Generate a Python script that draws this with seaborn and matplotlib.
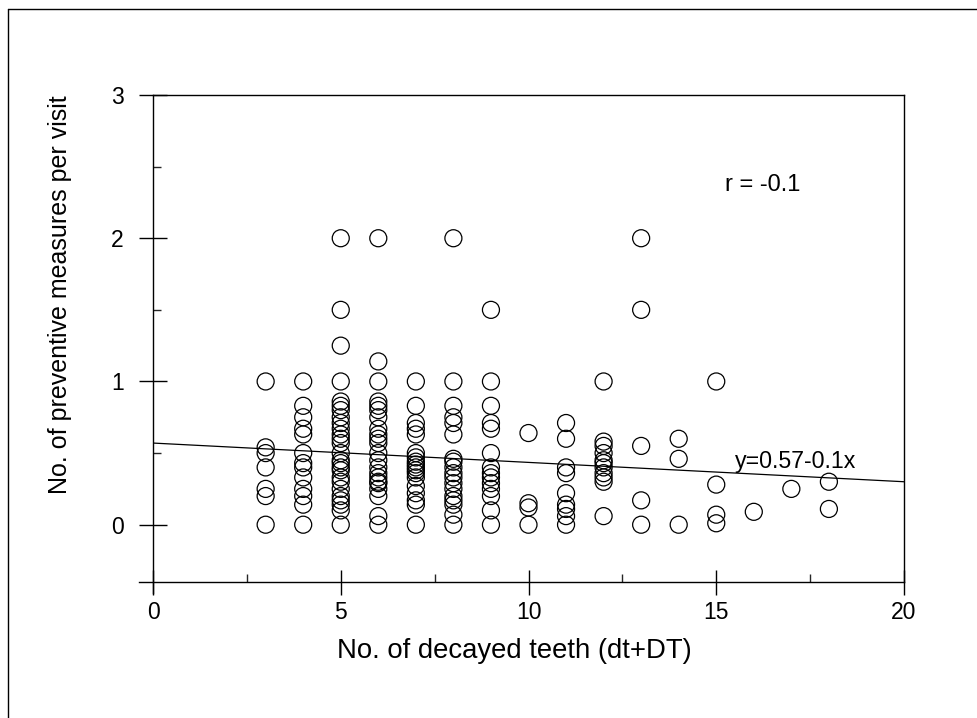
import numpy as np
import pandas as pd
import matplotlib
matplotlib.use("Agg")
import matplotlib.pyplot as plt
from matplotlib.lines import Line2D
from matplotlib.ticker import MultipleLocator
import seaborn as sns

# ---- data ----
x3 = [1.0, 0.54, 0.5, 0.4, 0.25, 0.2, 0.0]
x4 = [1.0, 0.83, 0.75, 0.67, 0.63, 0.5, 0.43, 0.4, 0.33, 0.25, 0.2, 0.14, 0.0]
x5 = [2.0, 1.5, 1.25, 1.0, 0.86, 0.83, 0.8, 0.75, 0.71, 0.67, 0.63, 0.6, 0.57,
      0.5, 0.45, 0.43, 0.4, 0.38, 0.33, 0.3, 0.25, 0.2, 0.17, 0.14, 0.1, 0.0]
x6 = [2.0, 1.14, 1.0, 0.86, 0.83, 0.8, 0.75, 0.67, 0.63, 0.6, 0.57, 0.5, 0.45,
      0.4, 0.36, 0.33, 0.3, 0.29, 0.25, 0.2, 0.06, 0.0]
x7 = [1.0, 0.83, 0.71, 0.67, 0.63, 0.5, 0.47, 0.44, 0.42, 0.4, 0.38, 0.36,
      0.33, 0.27, 0.22, 0.17, 0.14, 0.0]
x8 = [2.0, 1.0, 0.83, 0.75, 0.71, 0.63, 0.46, 0.44, 0.4, 0.36, 0.33, 0.29,
      0.25, 0.2, 0.17, 0.14, 0.07, 0.0]
x9 = [1.5, 1.0, 0.83, 0.71, 0.67, 0.5, 0.4, 0.36, 0.33, 0.29, 0.25, 0.2, 0.1, 0.0]
x10 = [0.64, 0.15, 0.12, 0.0]
x11 = [0.71, 0.6, 0.4, 0.36, 0.22, 0.14, 0.11, 0.06, 0.0]
x12 = [1.0, 0.58, 0.55, 0.5, 0.45, 0.43, 0.4, 0.36, 0.33, 0.3, 0.06]
x13 = [2.0, 1.5, 0.55, 0.17, 0.0]
x14 = [0.6, 0.46, 0.0]
x15 = [1.0, 0.28, 0.07, 0.01]
x16 = [0.09]
x17 = [0.25]
x18 = [0.3, 0.11]

decayed_teeth = [3, 4, 5, 6, 7, 8, 9, 10, 11, 12, 13, 14, 15, 16, 17, 18]
measures = [x3, x4, x5, x6, x7, x8, x9, x10, x11, x12, x13, x14, x15, x16, x17, x18]

fit_x = [0, 20]
fit_y = [0.57, 0.30]

x_ticks = [0, 5, 10, 15, 20]
y_ticks = [0, 1, 2, 3]

rows = [(dx, v) for dx, vals in zip(decayed_teeth, measures) for v in vals]
df = pd.DataFrame(rows, columns=["teeth", "measures"])
fit_df = pd.DataFrame({"x": fit_x, "y": fit_y})

# ---- figure ----
sns.set_theme(style="white")
plt.rcParams["font.family"] = ["Liberation Sans", "DejaVu Sans"]

fig = plt.figure(figsize=(9.78, 7.18), dpi=100)
ax = fig.add_axes([153 / 978, 1 - 582 / 718, 751 / 978, 487 / 718])

sns.scatterplot(data=df, x="teeth", y="measures", ax=ax, marker="o", s=150,
                facecolors="none", edgecolor="black", linewidth=0.9, legend=False)
sns.lineplot(data=fit_df, x="x", y="y", ax=ax, color="black", linewidth=0.9)

ax.set_xlim(0, 20)
ax.set_ylim(-0.4, 3.0)
ax.set_xticks(x_ticks)
ax.set_yticks(y_ticks)
ax.xaxis.set_minor_locator(MultipleLocator(2.5))
ax.yaxis.set_minor_locator(MultipleLocator(0.5))

for side in ["left", "bottom", "top", "right"]:
    ax.spines[side].set_color("black")
    ax.spines[side].set_linewidth(1.0)
ax.spines["bottom"].set_bounds(-0.37, 20)
ax.spines["left"].set_bounds(-0.48, 3.0)

ax.tick_params(axis="x", which="major", direction="inout", length=18, width=1.0,
               pad=5, labelsize=16.5, colors="black", bottom=True, top=False)
ax.tick_params(axis="y", which="major", direction="inout", length=20, width=1.0,
               pad=11, labelsize=16.5, colors="black", left=True, right=False)
ax.tick_params(axis="both", which="minor", direction="in", length=6, width=1.0,
               bottom=True, left=True, top=False, right=False)

ax.set_xlabel("No. of decayed teeth (dt+DT)", fontsize=19.8, color="black")
ax.set_ylabel("No. of preventive measures per visit", fontsize=18, color="black")
ax.xaxis.set_label_coords(0.4807, -0.1417)
ax.xaxis.label.set_va("center")
ax.yaxis.set_label_coords(-0.124, 0.589)
ax.yaxis.label.set_va("center")

ax.text(15.23, 2.375, "r = -0.1", fontsize=17, ha="left", va="center", color="black")
ax.text(15.5, 0.44, "y=0.57-0.1x", fontsize=16.7, ha="left", va="center", color="black")

# outer frame of the scanned figure
fig.add_artist(Line2D([8 / 978, 8 / 978], [0, 1 - 9 / 718], color="black", linewidth=1.0))
fig.add_artist(Line2D([8 / 978, 1], [1 - 9 / 718, 1 - 9 / 718], color="black", linewidth=1.0))

fig.savefig("out.png", dpi=100, facecolor="white")
